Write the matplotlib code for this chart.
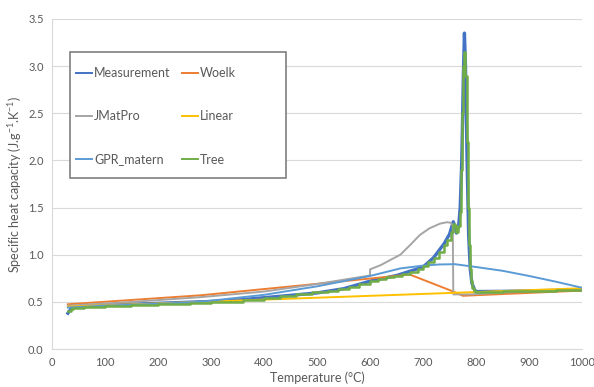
import matplotlib
matplotlib.use("Agg")
import matplotlib.pyplot as plt
from matplotlib.patches import Rectangle
from matplotlib.ticker import FormatStrFormatter, MultipleLocator

plt.rcParams['font.family'] = ['Lato', 'DejaVu Sans']
plt.rcParams['mathtext.fontset'] = 'custom'
plt.rcParams['mathtext.rm'] = 'Lato'

# Measured specific heat (J/g/K) vs temperature (degC)
meas_T = [30, 35, 40, 50, 100, 150, 200, 250, 300, 350, 400, 450, 500, 550, 600, 650,
          700, 720, 740, 750, 757, 760, 763, 767, 770, 773, 776, 778, 780, 783, 786,
          789, 792, 797, 800, 850, 900, 950, 1000]
meas_cp = [0.38, 0.42, 0.44, 0.45, 0.465, 0.475, 0.485, 0.495, 0.505, 0.52, 0.545, 0.57,
           0.595, 0.64, 0.72, 0.78, 0.87, 0.97, 1.12, 1.22, 1.35, 1.30, 1.23, 1.30, 1.50,
           2.0, 2.9, 3.35, 3.0, 2.0, 1.2, 0.85, 0.70, 0.63, 0.61, 0.612, 0.617, 0.622, 0.628]

# Woelk model
woelk_T = [30, 280, 470, 675, 757, 775, 1000]
woelk_cp = [0.475, 0.57, 0.675, 0.79, 0.61, 0.565, 0.62]

# JMatPro prediction
jmat_T = [30, 150, 279, 400, 500, 600, 600, 620, 640, 657, 675, 694, 712, 732, 745, 752,
          756, 757, 790, 850, 900, 1000]
jmat_cp = [0.46, 0.50, 0.55, 0.61, 0.69, 0.78, 0.845, 0.89, 0.95, 1.0, 1.1, 1.21, 1.28,
           1.33, 1.345, 1.34, 1.31, 0.58, 0.58, 0.60, 0.61, 0.63]

# Linear regression
lin_T = [30, 1000]
lin_cp = [0.45, 0.645]

# GPR with Matern kernel
gpr_T = [30, 100, 200, 279, 400, 500, 600, 657, 700, 730, 760, 800, 850, 900, 950, 1000]
gpr_cp = [0.44, 0.46, 0.48, 0.50, 0.575, 0.665, 0.775, 0.855, 0.885, 0.897, 0.90, 0.87,
          0.83, 0.775, 0.715, 0.65]

# Decision tree (piecewise constant)
tree_T = [30, 35, 40, 60, 100, 150, 200, 260, 300, 360, 400, 430, 460, 490, 520, 540, 560,
          580, 600, 615, 630, 645, 660, 675, 690, 700, 710, 720, 730, 740, 746, 752, 757,
          760, 763, 766, 769, 772, 774, 776, 778, 780, 782, 784, 786, 788, 790, 793, 796,
          800, 850, 900, 950, 1000]
tree_cp = [0.40, 0.43, 0.44, 0.45, 0.46, 0.47, 0.48, 0.49, 0.50, 0.52, 0.54, 0.56, 0.58,
           0.60, 0.62, 0.64, 0.66, 0.69, 0.72, 0.74, 0.76, 0.78, 0.80, 0.82, 0.85, 0.88,
           0.92, 0.97, 1.03, 1.10, 1.16, 1.24, 1.33, 1.30, 1.24, 1.30, 1.45, 1.9, 2.5, 3.0,
           3.15, 2.9, 2.2, 1.5, 1.1, 0.85, 0.72, 0.65, 0.62, 0.61, 0.615, 0.62, 0.625, 0.63]

W, H = 594, 387
fig = plt.figure(figsize=(W / 100, H / 100), dpi=100)
ax = fig.add_axes([0.0875, 0.098, 0.8925, 0.853])

l_meas, = ax.plot(meas_T, meas_cp, color='#4472C4', lw=2.4, label='Measurement')
l_woelk, = ax.plot(woelk_T, woelk_cp, color='#ED7D31', lw=1.4, label='Woelk')
l_jmat, = ax.plot(jmat_T, jmat_cp, color='#A5A5A5', lw=1.4, label='JMatPro')
l_lin, = ax.plot(lin_T, lin_cp, color='#FFC000', lw=1.4, label='Linear')
l_gpr, = ax.plot(gpr_T, gpr_cp, color='#5B9BD5', lw=1.4, label='GPR_matern')
l_tree, = ax.plot(tree_T, tree_cp, color='#70AD47', lw=1.8, drawstyle='steps-post', label='Tree')

ax.set_xlim(0, 1000)
ax.set_ylim(0, 3.5)
ax.xaxis.set_major_locator(MultipleLocator(100))
ax.yaxis.set_major_locator(MultipleLocator(0.5))
ax.yaxis.set_major_formatter(FormatStrFormatter('%.1f'))
ax.tick_params(length=0, labelsize=8, colors='#595959', pad=6)
ax.grid(axis='y', color='#D9D9D9', lw=0.8)
ax.set_axisbelow(True)
for s in ['top', 'right']:
    ax.spines[s].set_visible(False)
for s in ['left', 'bottom']:
    ax.spines[s].set_color('#D9D9D9')
    ax.spines[s].set_linewidth(0.8)

ax.set_xlabel('Temperature (°C)', fontsize=9, color='#595959', labelpad=2)
ax.set_ylabel(r'Specific heat capacity (J.g$\mathregular{^{-1}}$.K$\mathregular{^{-1}}$)',
              fontsize=9, color='#595959', labelpad=3)

# legend box with fixed size, entries laid out inside it
frame = Rectangle((70 / W, 1 - 178 / H), 216 / W, 126 / H, transform=fig.transFigure,
                  facecolor='white', edgecolor='#7F7F7F', lw=1.2, zorder=4)
fig.add_artist(frame)

handles = [l_meas, l_jmat, l_gpr, l_woelk, l_lin, l_tree]
leg = fig.legend(handles=handles, ncol=2, loc='upper left',
                 bbox_to_anchor=(76 / W, 1 - 67 / H), frameon=False,
                 fontsize=9, labelspacing=2.5, handlelength=1.3, handletextpad=0.15,
                 columnspacing=0.9, borderpad=0, borderaxespad=0)
leg.set_zorder(5)
for t in leg.get_texts():
    t.set_color('#595959')
for h in leg.get_lines():
    h.set_linewidth(1.4)

fig.savefig('out.png', dpi=100)
